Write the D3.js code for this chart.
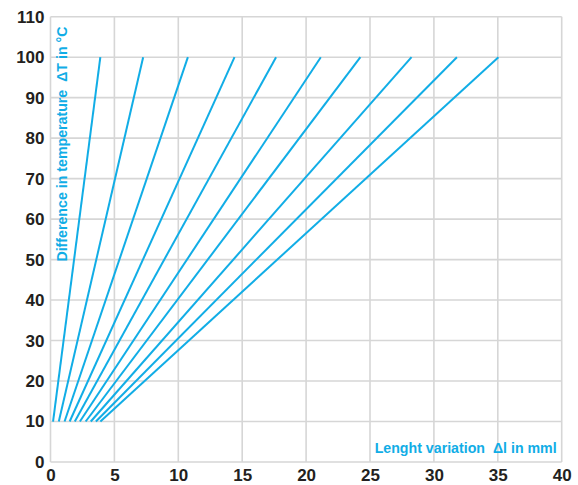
<!DOCTYPE html>
<html>
<head>
<meta charset="utf-8">
<script src="https://cdn.jsdelivr.net/npm/d3@7"></script>
<style>
  body { margin: 0; background: #fff; }
  svg text { font-family: "Liberation Sans", Arial, sans-serif; }
  .title { white-space: pre; }
</style>
</head>
<body>
<div id="chart"></div>
<script>
// Length variation (mm) at ΔT = 10 and ΔT = 100 for each line
const startLength = [0.2, 0.65, 1.1, 1.5, 1.9, 2.3, 2.75, 3.15, 3.55, 3.9];
const endLength = [3.9, 7.25, 10.75, 14.4, 17.65, 21.15, 24.25, 28.25, 31.8, 35.05];
const tempRange = [10, 100];
const xTicks = [0, 5, 10, 15, 20, 25, 30, 35, 40];
const yTicks = [0, 10, 20, 30, 40, 50, 60, 70, 80, 90, 100, 110];

const lines = startLength.map((s, i) => [
    { x: s, y: tempRange[0] },
    { x: endLength[i], y: tempRange[1] }
]);

const W = 578, H = 485;
const margin = { top: 16.7, right: 16.3, bottom: 23, left: 50.5 };
const width = W - margin.left - margin.right;
const height = H - margin.top - margin.bottom;

const svg = d3.select("#chart")
    .append("svg")
    .attr("width", W)
    .attr("height", H)
    .append("g")
    .attr("transform", `translate(${margin.left}, ${margin.top})`);

const xScale = d3.scaleLinear().domain([0, 40]).range([0, width]);
const yScale = d3.scaleLinear().domain([0, 110]).range([height, 0]);

// Grid
const grid = svg.append("g").attr("stroke", "#d6d6d6").attr("stroke-width", 1.6);
grid.selectAll(".vx")
    .data(xTicks)
    .enter()
    .append("line")
    .attr("x1", d => xScale(d)).attr("x2", d => xScale(d))
    .attr("y1", 0).attr("y2", height);
grid.selectAll(".hy")
    .data(yTicks)
    .enter()
    .append("line")
    .attr("x1", 0).attr("x2", width)
    .attr("y1", d => yScale(d)).attr("y2", d => yScale(d));

// Axes (labels only)
const xAxis = svg.append("g")
    .attr("transform", `translate(0, ${height})`)
    .call(d3.axisBottom(xScale).tickValues(xTicks).tickSize(0).tickPadding(7));
const yAxis = svg.append("g")
    .call(d3.axisLeft(yScale).tickValues(yTicks).tickSize(0).tickPadding(6));

[xAxis, yAxis].forEach(a => {
    a.select(".domain").remove();
    a.selectAll("text")
        .attr("font-family", "Liberation Sans, Arial, sans-serif")
        .attr("font-size", 17)
        .attr("font-weight", "bold")
        .attr("fill", "#231f20");
});

// Lines
const line = d3.line().x(d => xScale(d.x)).y(d => yScale(d.y));
svg.selectAll(".series")
    .data(lines)
    .enter()
    .append("path")
    .attr("class", "series")
    .attr("d", line)
    .attr("fill", "none")
    .attr("stroke", "#11ade6")
    .attr("stroke-width", 2);

// Axis titles
svg.append("text")
    .attr("class", "title")
    .attr("x", width - 5)
    .attr("y", height - 9)
    .attr("text-anchor", "end")
    .attr("font-size", 14.2)
    .attr("font-weight", "bold")
    .attr("fill", "#11ade6")
    .text("Lenght variation  \u0394l in mml");

svg.append("text")
    .attr("class", "title")
    .attr("transform", `translate(16, ${yScale(49.5)}) rotate(-90)`)
    .attr("text-anchor", "start")
    .attr("font-size", 14.2)
    .attr("font-weight", "bold")
    .attr("fill", "#11ade6")
    .text("Difference in temperature  \u0394T in \u00b0C");
</script>
</body>
</html>
